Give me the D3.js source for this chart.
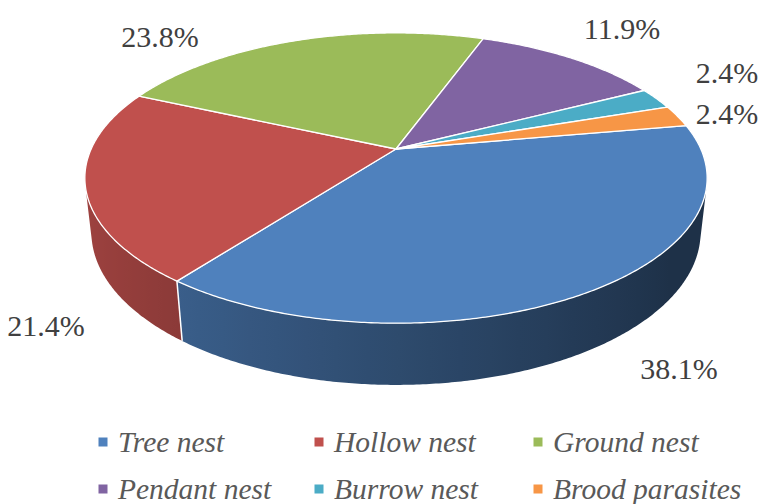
<!DOCTYPE html>
<html><head><meta charset="utf-8">
<script src="https://cdn.jsdelivr.net/npm/d3@7"></script>
<style>body{margin:0;background:#fff;} svg{display:block;}</style>
</head><body>
<svg id="chart" width="758" height="504"></svg>
<script>
// ---- data ----
const categories = ["Tree nest","Hollow nest","Ground nest","Pendant nest","Burrow nest","Brood parasites"];
const values = [38.1, 21.4, 23.8, 11.9, 2.4, 2.4];
const labelTexts = ["38.1%","21.4%","23.8%","11.9%","2.4%","2.4%"];
const colors = ["#4F81BD","#C0504D","#9BBB59","#8064A2","#4BACC6","#F79646"];

// ---- layout ----
const W = 758, H = 504;
const firstSliceAngle = 80; // degrees
const cam = {cx: 396, cy: 149, F: 1355, D: 4.445, alpha: 27.2 * Math.PI / 180};
const depthH = 0.2;
const labelXY = [[679,368],[46,325],[160,36],[622,28],[727,72],[727,113]];
const legendCols = [103, 319, 538];
const legendRows = [442, 489];
const serif = "'Liberation Serif'";

const svg = d3.select("#chart");
const defs = svg.append("defs");
const s = Math.sin(cam.alpha), c = Math.cos(cam.alpha);
function proj(a, r, Y) {
  const X = r * Math.sin(a), Z = -r * Math.cos(a);
  const depth = cam.D - Y * s - Z * c;
  return [cam.cx + cam.F * X / depth, cam.cy - cam.F * (Y * c - Z * s) / depth];
}

const pie = d3.pie().sort(null).value(d => d)
  .startAngle(firstSliceAngle * Math.PI / 180)
  .endAngle((firstSliceAngle + 360) * Math.PI / 180);
const arcs = pie(values);

const step = Math.PI / 360;
function rimPoints(a0, a1, Y) {
  const pts = [];
  const n = Math.max(1, Math.ceil((a1 - a0) / step));
  for (let i = 0; i <= n; i++) pts.push(proj(a0 + (a1 - a0) * i / n, 1, Y));
  return pts;
}
function shadeColor(col, a) {
  const X = Math.sin(a);
  let k = 0.58 - 0.25 * X;
  k = Math.max(0.38, Math.min(0.86, k));
  const rgb = d3.rgb(col);
  return d3.rgb(rgb.r * k, rgb.g * k, rgb.b * k).formatHex();
}

// visible side range
const kk = Math.asin(1 / (cam.D * c));
const vis0 = Math.PI / 2 + kk, vis1 = 3 * Math.PI / 2 - kk;

const sideG = svg.append("g");
const sepLines = [];
arcs.forEach((d, i) => {
  [0, 2 * Math.PI].forEach(off => {
    const a0 = Math.max(d.startAngle - off, vis0), a1 = Math.min(d.endAngle - off, vis1);
    if (a1 <= a0) return;
    const top = rimPoints(a0, a1, 0);
    const bot = rimPoints(a0, a1, -depthH).reverse();
    const xs = top.map(p => p[0]);
    const xmin = d3.min(xs), xmax = d3.max(xs);
    const gid = "side" + i + "_" + off.toFixed(0);
    const g = defs.append("linearGradient").attr("id", gid)
      .attr("gradientUnits", "userSpaceOnUse")
      .attr("x1", xmin).attr("y1", 0).attr("x2", xmax).attr("y2", 0);
    const n = 24;
    const stops = [];
    for (let j = 0; j <= n; j++) {
      const a = a0 + (a1 - a0) * j / n;
      const x = proj(a, 1, 0)[0];
      stops.push([(x - xmin) / (xmax - xmin || 1), shadeColor(colors[i], a)]);
    }
    stops.sort((p, q) => p[0] - q[0]);
    stops.forEach(st => g.append("stop").attr("offset", Math.max(0, Math.min(1, st[0]))).attr("stop-color", st[1]));
    sideG.append("path")
      .attr("d", d3.line()(top.concat(bot)) + "Z")
      .attr("fill", "url(#" + gid + ")");
    if (d.startAngle - off > vis0 && d.startAngle - off < vis1) sepLines.push(d.startAngle - off);
    if (d.endAngle - off > vis0 && d.endAngle - off < vis1) sepLines.push(d.endAngle - off);
  });
});
Array.from(new Set(sepLines.map(v => v.toFixed(5)))).map(Number).forEach(a => {
  const p0 = proj(a, 1, 0), p1 = proj(a, 1, -depthH);
  sideG.append("line").attr("x1", p0[0]).attr("y1", p0[1]).attr("x2", p1[0]).attr("y2", p1[1])
    .attr("stroke", "#fff").attr("stroke-width", 1.5);
});

// top faces
const topG = svg.append("g");
arcs.forEach((d, i) => {
  const pts = [proj(0, 0, 0)].concat(rimPoints(d.startAngle, d.endAngle, 0));
  topG.append("path")
    .attr("d", d3.line()(pts) + "Z")
    .attr("fill", colors[i])
    .attr("stroke", "#fff").attr("stroke-width", 1.3).attr("stroke-linejoin", "round");
});

// data labels
svg.append("g").selectAll("text").data(labelTexts).join("text")
  .attr("x", (d, i) => labelXY[i][0]).attr("y", (d, i) => labelXY[i][1])
  .attr("text-anchor", "middle").attr("dominant-baseline", "central")
  .style("font-family", serif).style("font-size", "30px").attr("fill", "#404040")
  .text(d => d);

// legend
const lg = svg.append("g");
categories.forEach((name, i) => {
  const x = legendCols[i % 3], y = legendRows[Math.floor(i / 3)];
  lg.append("rect").attr("x", x - 4.5).attr("y", y - 4.5).attr("width", 9).attr("height", 9).attr("fill", colors[i]);
  lg.append("text").attr("x", x + 15).attr("y", y).attr("dominant-baseline", "central")
    .style("font-family", serif).style("font-style", "italic").style("font-size", "29.5px")
    .attr("fill", "#595959")
    .text(name);
});
</script>
</body></html>
